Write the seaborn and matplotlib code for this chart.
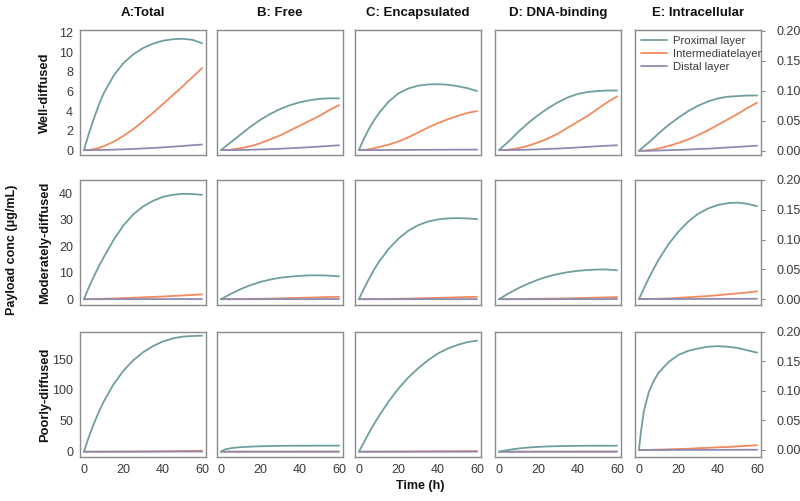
import numpy as np
import pandas as pd
import matplotlib
matplotlib.use("Agg")
import matplotlib.pyplot as plt
from matplotlib.lines import Line2D
import seaborn as sns

# data: time points and curves per row (columns A..E in each inner list)
time_h = [0, 1, 2.5, 5, 7.5, 10, 15, 20, 25, 30, 35, 40, 45, 50, 55, 60]

col_titles = ["A:Total", "B: Free", "C: Encapsulated", "D: DNA-binding", "E: Intracellular"]
row_titles = ["Well-diffused", "Moderately-diffused", "Poorly-diffused"]
layers = ["Proximal layer", "Intermediatelayer", "Distal layer"]

well_prox = [
    [0, 0.7, 1.7, 3.2, 4.6, 5.8, 7.6, 8.9, 9.8, 10.45, 10.9, 11.2, 11.35, 11.4, 11.3, 10.95],
    [0, 0.16, 0.4, 0.8, 1.2, 1.6, 2.4, 3.1, 3.7, 4.2, 4.6, 4.9, 5.1, 5.25, 5.3, 5.3],
    [0, 0.5, 1.15, 2.15, 3.0, 3.75, 4.95, 5.8, 6.3, 6.6, 6.72, 6.75, 6.7, 6.55, 6.35, 6.05],
    [0, 0.18, 0.45, 0.9, 1.4, 1.9, 2.8, 3.6, 4.3, 4.9, 5.4, 5.75, 5.95, 6.05, 6.1, 6.1],
    [0, 0.003, 0.007, 0.014, 0.021, 0.029, 0.043, 0.055, 0.066, 0.075, 0.082, 0.087, 0.090, 0.091, 0.092, 0.092],
]
well_inter = [
    [0, 0, 0.02, 0.1, 0.22, 0.4, 0.85, 1.45, 2.15, 2.95, 3.8, 4.7, 5.6, 6.5, 7.45, 8.4],
    [0, 0, 0.01, 0.05, 0.12, 0.2, 0.4, 0.7, 1.1, 1.5, 2.0, 2.5, 3.0, 3.5, 4.1, 4.6],
    [0, 0, 0.02, 0.08, 0.18, 0.3, 0.55, 0.88, 1.3, 1.8, 2.3, 2.75, 3.15, 3.5, 3.8, 4.0],
    [0, 0, 0.01, 0.05, 0.12, 0.2, 0.45, 0.8, 1.2, 1.7, 2.3, 2.9, 3.5, 4.2, 4.9, 5.5],
    [0, 0, 0.0002, 0.001, 0.002, 0.004, 0.008, 0.013, 0.019, 0.026, 0.034, 0.043, 0.052, 0.061, 0.071, 0.080],
]
well_dist = [
    [0, 0, 0, 0, 0.01, 0.02, 0.05, 0.08, 0.12, 0.17, 0.22, 0.28, 0.35, 0.42, 0.5, 0.57],
    [0, 0, 0, 0, 0.01, 0.02, 0.04, 0.07, 0.1, 0.14, 0.19, 0.24, 0.3, 0.36, 0.43, 0.5],
    [0, 0, 0, 0, 0, 0.01, 0.01, 0.02, 0.02, 0.03, 0.03, 0.04, 0.04, 0.05, 0.05, 0.05],
    [0, 0, 0, 0, 0.01, 0.02, 0.05, 0.08, 0.12, 0.16, 0.21, 0.27, 0.33, 0.4, 0.45, 0.5],
    [0, 0, 0, 0, 0.0003, 0.0005, 0.001, 0.0015, 0.002, 0.003, 0.0035, 0.0045, 0.0055, 0.0065, 0.0075, 0.0085],
]

mod_prox = [
    [0, 1.8, 4.5, 8.5, 12.3, 15.8, 22.3, 27.8, 32.0, 35.0, 37.1, 38.6, 39.4, 39.8, 39.7, 39.4],
    [0, 0.4, 1.0, 2.0, 2.9, 3.8, 5.3, 6.5, 7.4, 8.1, 8.5, 8.8, 9.0, 9.0, 8.9, 8.6],
    [0, 1.6, 3.9, 7.5, 10.9, 13.9, 18.9, 22.8, 25.8, 27.9, 29.3, 30.1, 30.5, 30.6, 30.5, 30.2],
    [0, 0.45, 1.1, 2.2, 3.2, 4.2, 5.9, 7.4, 8.6, 9.5, 10.2, 10.7, 11.0, 11.2, 11.2, 10.9],
    [0, 0.007, 0.018, 0.035, 0.051, 0.066, 0.092, 0.113, 0.130, 0.143, 0.152, 0.158, 0.161, 0.162, 0.160, 0.156],
]
mod_inter = [
    [0, 0, 0, 0.05, 0.1, 0.15, 0.25, 0.4, 0.55, 0.7, 0.85, 1.0, 1.2, 1.4, 1.6, 1.8],
    [0, 0, 0, 0, 0.02, 0.05, 0.1, 0.15, 0.2, 0.3, 0.4, 0.5, 0.6, 0.7, 0.8, 0.9],
    [0, 0, 0, 0, 0.02, 0.05, 0.1, 0.15, 0.2, 0.3, 0.4, 0.5, 0.6, 0.7, 0.8, 0.9],
    [0, 0, 0, 0, 0.02, 0.05, 0.1, 0.15, 0.2, 0.25, 0.3, 0.4, 0.5, 0.6, 0.7, 0.8],
    [0, 0, 0, 0, 0.0003, 0.0005, 0.001, 0.002, 0.003, 0.004, 0.005, 0.0065, 0.008, 0.0095, 0.011, 0.013],
]
mod_dist = [
    [0, 0, 0, 0, 0, 0, 0.01, 0.01, 0.02, 0.02, 0.03, 0.03, 0.04, 0.04, 0.05, 0.05],
    [0, 0, 0, 0, 0, 0, 0.01, 0.01, 0.01, 0.02, 0.02, 0.02, 0.03, 0.03, 0.03, 0.04],
    [0, 0, 0, 0, 0, 0, 0, 0.01, 0.01, 0.01, 0.01, 0.02, 0.02, 0.02, 0.02, 0.02],
    [0, 0, 0, 0, 0, 0, 0.01, 0.01, 0.01, 0.02, 0.02, 0.02, 0.03, 0.03, 0.03, 0.04],
    [0, 0, 0, 0, 0, 0, 0, 0.0001, 0.0001, 0.0002, 0.0002, 0.0003, 0.0003, 0.0004, 0.0004, 0.0005],
]

poor_prox = [
    [0, 10, 24, 45, 64, 81, 109, 131, 148, 161, 171, 178.5, 183.5, 186.5, 187.5, 188],
    [0, 2.0, 4.0, 5.6, 6.6, 7.3, 8.2, 8.8, 9.2, 9.5, 9.6, 9.7, 9.7, 9.8, 9.8, 9.8],
    [0, 6, 15, 30, 44, 57, 81, 102, 120, 135, 148, 159, 167, 173, 177.5, 180],
    [0, 0.7, 1.6, 3.0, 4.2, 5.2, 6.8, 7.8, 8.5, 9.0, 9.3, 9.5, 9.6, 9.7, 9.7, 9.6],
    [0, 0.03, 0.066, 0.098, 0.117, 0.131, 0.149, 0.161, 0.168, 0.172, 0.175, 0.176, 0.175, 0.173, 0.169, 0.165],
]
poor_inter = [
    [0, 0, 0, 0, 0.02, 0.05, 0.1, 0.2, 0.3, 0.4, 0.55, 0.7, 0.9, 1.1, 1.3, 1.5],
    [0, 0, 0, 0, 0, 0, 0.01, 0.02, 0.03, 0.05, 0.07, 0.1, 0.13, 0.17, 0.21, 0.25],
    [0, 0, 0, 0.05, 0.08, 0.1, 0.15, 0.25, 0.35, 0.45, 0.55, 0.65, 0.75, 0.85, 0.95, 1.0],
    [0, 0, 0, 0, 0, 0, 0.01, 0.02, 0.03, 0.05, 0.07, 0.1, 0.13, 0.17, 0.21, 0.25],
    [0, 0, 0, 0, 0.0003, 0.0005, 0.001, 0.0015, 0.002, 0.003, 0.0035, 0.0045, 0.005, 0.006, 0.007, 0.008],
]
poor_dist = [
    [0, 0, 0, 0, 0, 0, 0.01, 0.02, 0.03, 0.05, 0.07, 0.1, 0.13, 0.17, 0.21, 0.25],
    [0, 0, 0, 0, 0, 0, 0, 0, 0.01, 0.01, 0.01, 0.01, 0.02, 0.02, 0.02, 0.02],
    [0, 0, 0, 0, 0, 0, 0, 0.01, 0.01, 0.01, 0.02, 0.02, 0.03, 0.03, 0.04, 0.04],
    [0, 0, 0, 0, 0, 0, 0, 0, 0.01, 0.01, 0.01, 0.01, 0.02, 0.02, 0.02, 0.02],
    [0, 0, 0, 0, 0, 0, 0, 0, 0.0001, 0.0001, 0.0001, 0.0002, 0.0002, 0.0002, 0.0003, 0.0003],
]

rows_data = [
    (well_prox, well_inter, well_dist),
    (mod_prox, mod_inter, mod_dist),
    (poor_prox, poor_inter, poor_dist),
]

# axis settings
row_ylims = [(-0.5, 12.3), (-2.2, 45), (-8.6, 194)]
row_yticks = [[0, 2, 4, 6, 8, 10, 12], [0, 10, 20, 30, 40], [0, 50, 100, 150]]
e_ylims = [(-0.007, 0.201), (-0.01, 0.2), (-0.012, 0.2)]
e_yticks = [0, 0.05, 0.10, 0.15, 0.20]

palette = {"Proximal layer": "#6f9ea0", "Intermediatelayer": "#f28a5e", "Distal layer": "#8d8bb3"}

sns.set_style("white")
plt.rcParams["font.family"] = ["Liberation Sans", "DejaVu Sans"]

fig = plt.figure(figsize=(8, 5.01), dpi=100)
W, H = 800, 501
col_left = [80, 217, 355, 495, 635]
row_top = [30, 180, 332]
aw, ah = 126, 125
spine_c = "#8a8a8a"
txt_c = "#3a3a3a"
n = len(time_h)

for r in range(3):
    for c in range(5):
        ax = fig.add_axes([col_left[c] / W, (H - row_top[r] - ah) / H, aw / W, ah / H])
        prox, inter, dist = rows_data[r]
        df = pd.DataFrame({
            "time": time_h * 3,
            "conc": prox[c] + inter[c] + dist[c],
            "layer": [layers[0]] * n + [layers[1]] * n + [layers[2]] * n,
        })
        sns.lineplot(data=df, x="time", y="conc", hue="layer", palette=palette,
                     hue_order=[layers[1], layers[2], layers[0]],
                     linewidth=1.3, ax=ax, legend=False)
        ax.set_xlim(-2, 62)
        ax.set_xticks([0, 10, 20, 30, 40, 50, 60])
        if r == 2:
            ax.set_xticklabels(["0", "", "20", "", "40", "", "60"])
        else:
            ax.set_xticklabels([])
        ax.set_xlabel("")
        ax.set_ylabel("")
        for s in ax.spines.values():
            s.set_color(spine_c)
            s.set_linewidth(1.0)
        ax.tick_params(axis="both", direction="out", length=3, width=0.8,
                       color=spine_c, labelsize=9, labelcolor=txt_c, pad=2)
        if c < 4:
            ax.set_ylim(*row_ylims[r])
            ax.set_yticks(row_yticks[r])
            if c > 0:
                ax.set_yticklabels([])
        else:
            ax.set_ylim(*e_ylims[r])
            ax.set_yticks(e_yticks)
            ax.set_yticklabels(["0.00", "0.05", "0.10", "0.15", "0.20"])
            ax.yaxis.tick_right()
            ax.tick_params(axis="y", pad=8)
        if r == 0:
            ax.set_title(col_titles[c], fontsize=9.5, fontweight="bold", pad=10, color="#111111")
        if r == 0 and c == 4:
            handles = [Line2D([], [], color=palette[l], linewidth=1.3) for l in layers]
            ax.legend(handles, layers, loc="upper left", frameon=False, fontsize=8.2,
                      handlelength=2.3, handletextpad=0.45, labelspacing=0.25,
                      borderaxespad=0.2, borderpad=0.35, labelcolor=txt_c)

for r in range(3):
    yc = 1 - (row_top[r] + ah / 2) / H
    fig.text(45 / W, yc, row_titles[r], rotation=90, ha="center", va="center",
             fontsize=9.3, fontweight="bold", color="#111111")
fig.text(12 / W, 1 - 250 / H, "Payload conc (μg/mL)", rotation=90, ha="center",
         va="center", fontsize=9, fontweight="bold", color="#111111")
fig.text(420 / W, 1 - 486 / H, "Time (h)", ha="center", va="center",
         fontsize=9, fontweight="bold", color="#111111")

fig.savefig("out.png", dpi=100, facecolor="white")
